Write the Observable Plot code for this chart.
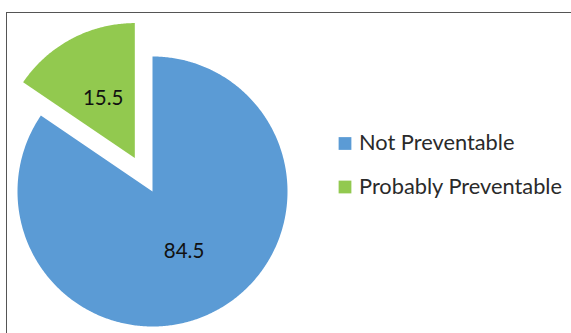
<!DOCTYPE html>
<html><head><meta charset="utf-8">
<script src="https://cdn.jsdelivr.net/npm/d3@7"></script>
<script src="https://cdn.jsdelivr.net/npm/@observablehq/plot@0.6"></script>
<style>
body{margin:0;background:#fff;}
#wrap{position:relative;width:571px;height:333px;overflow:hidden;background:#fff;}
#frame{position:absolute;left:6px;top:12px;width:620px;height:400px;border:1.5px solid #555;box-sizing:border-box;}
#chart{position:absolute;left:0;top:0;}
</style></head><body>
<div id="wrap"><div id="frame"></div><div id="chart"></div></div>
<script>
const categories = ["Not Preventable", "Probably Preventable"];
const values = [84.5, 15.5];
const labels = ["84.5", "15.5"];
const colors = ["#5B9BD5", "#92C94F"];
const explode = [0, 0.28];

const W = 571, H = 333, cx = 152, cy = 191, R = 135;
const arcs = d3.pie().sort(null)(values);
const slices = [], labelPts = [];
arcs.forEach((a, i) => {
  const mid = (a.startAngle + a.endAngle) / 2;
  const ox = Math.sin(mid) * explode[i], oy = Math.cos(mid) * explode[i];
  slices.push({cat: categories[i], x: ox, y: oy});
  const n = Math.max(2, Math.ceil((a.endAngle - a.startAngle) / 0.01));
  for (let k = 0; k <= n; k++) {
    const t = a.startAngle + (a.endAngle - a.startAngle) * k / n;
    slices.push({cat: categories[i], x: ox + Math.sin(t), y: oy + Math.cos(t)});
  }
  labelPts.push({cat: categories[i], label: labels[i], x: ox + 0.5 * Math.sin(mid), y: oy + 0.5 * Math.cos(mid)});
});

const legX = (344.5 - cx) / R, legTX = (358.5 - cx) / R;
const legY = i => (cy - (143 + i * 43.5)) / R;

const chart = Plot.plot({
  width: W, height: H, margin: 0,
  style: {fontFamily: "Lato, 'Open Sans', sans-serif", background: "transparent", overflow: "visible"},
  x: {domain: [-1, 1], range: [cx - R, cx + R], axis: null},
  y: {domain: [-1, 1], range: [cy + R, cy - R], axis: null},
  color: {domain: categories, range: colors},
  marks: [
    Plot.line(slices, {x: "x", y: "y", z: "cat", fill: "cat", stroke: "none", curve: "linear-closed"}),
    Plot.text(labelPts, {x: "x", y: "y", text: "label", fontSize: 20.5, fill: "#111"}),
    Plot.dot(categories, {x: () => legX, y: (d, i) => legY(i), symbol: "square", r: 7.2, fill: d => d, stroke: "none"}),
    Plot.text(categories, {x: () => legTX, y: (d, i) => legY(i), text: d => d, textAnchor: "start", fontSize: 21.8, fill: "#2a2a2a"})
  ]
});
document.getElementById("chart").appendChild(chart);
</script>
</body></html>
